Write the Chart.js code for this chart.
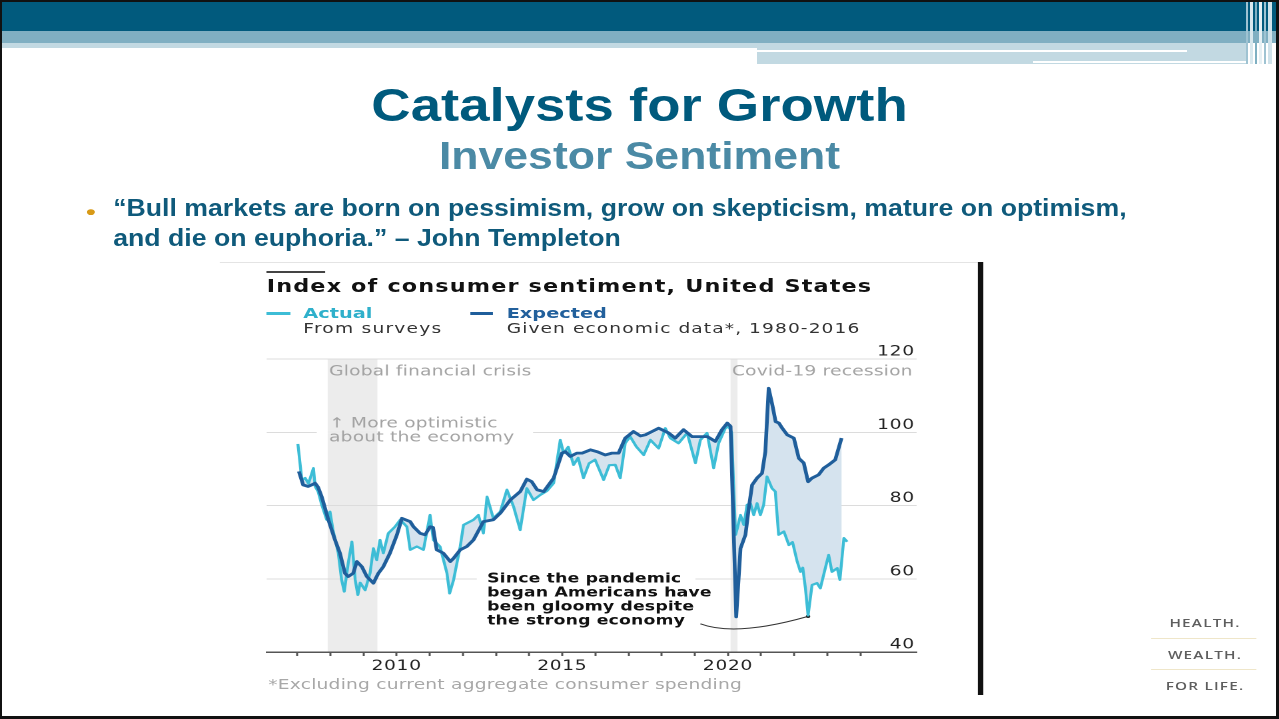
<!DOCTYPE html>
<html>
<head>
<meta charset="utf-8">
<script src="https://cdn.jsdelivr.net/npm/chart.js@4.4.1/dist/chart.umd.min.js"></script>
<style>
html, body { margin: 0; padding: 0; background: #fff; }
#slide { position: relative; width: 1279px; height: 719px; overflow: hidden; background: #fff; }
#frame { position: absolute; left: 0; top: 0; width: 1279px; height: 719px; box-sizing: border-box;
  border: 2px solid #111; border-right-width: 3px; border-bottom-width: 3px; z-index: 10; }
.bar { position: absolute; }
/* the slide was a 4:3 deck stretched to 16:9, so lay it out at 960 wide and stretch */
#stage { position: absolute; left: 0; top: 0; width: 960px; height: 719px;
  transform-origin: 0 0; transform: scaleX(1.33229); }
.t { position: absolute; white-space: nowrap; line-height: 1; }
.arial { font-family: "Liberation Sans", Arial, sans-serif; font-weight: bold; }
.dv { font-family: "DejaVu Sans", sans-serif; }
.narrowC { transform-origin: 480px 0; }
.narrowL { transform-origin: 0 0; }
#chartCanvas { position: absolute; left: 165px; top: 340px; width: 540px; height: 360px; }
</style>
</head>
<body>
<div id="slide">
  <!-- header bars -->
  <div class="bar" style="left:0;top:0;width:1279px;height:31px;background:#015a7d"></div>
  <div class="bar" style="left:0;top:31px;width:1279px;height:12px;background:#80afc2"></div>
  <div class="bar" style="left:0;top:43px;width:757px;height:5px;background:#c2d9e2"></div>
  <div class="bar" style="left:757px;top:43px;width:490px;height:21px;background:#c2d9e2"></div>
  <div class="bar" style="left:757px;top:50px;width:430px;height:2px;background:#fff"></div>
  <div class="bar" style="left:1033px;top:61px;width:222px;height:2px;background:#fff"></div>
  <div class="bar" style="left:1246px;top:0;width:2px;height:64px;background:#9fc3d2"></div>
  <div class="bar" style="left:1250px;top:0;width:3px;height:64px;background:#d8e8ee"></div>
  <div class="bar" style="left:1255px;top:0;width:2px;height:64px;background:#7fb0c2"></div>
  <div class="bar" style="left:1259px;top:0;width:3px;height:64px;background:#e6f0f4"></div>
  <div class="bar" style="left:1264px;top:0;width:2px;height:64px;background:#9fc3d2"></div>
  <div class="bar" style="left:1268px;top:0;width:4px;height:64px;background:#cfe2ea"></div>

  <div id="stage">
    <div class="t arial narrowC" style="left:0;width:960px;text-align:center;top:81.6px;font-size:46px;color:#005a7d;transform:scaleX(0.89)">Catalysts for Growth</div>
    <div class="t arial narrowC" style="left:0;width:960px;text-align:center;top:136.5px;font-size:38px;color:#4b8aa5;transform:scaleX(0.88)">Investor Sentiment</div>

    <div class="t arial" style="left:64.5px;top:201px;font-size:21px;color:#d89a17">•</div>
    <div class="t arial narrowL" style="left:84.8px;top:193.3px;font-size:23px;line-height:30px;color:#0f5a7b;transform:scaleX(0.87)">“Bull markets are born on pessimism, grow on skepticism, mature on optimism,<br>and die on euphoria.” – John Templeton</div>

    <!-- embedded chart picture -->
    <div class="bar" style="left:165px;top:262px;width:569px;height:1px;background:#e4e4e4"></div>
    <div class="bar" style="left:734px;top:262px;width:3.5px;height:433px;background:#111"></div>
    <div class="bar" style="left:200.2px;top:271px;width:44px;height:1.5px;background:#444"></div>
    <div class="t dv" style="left:200.2px;top:278.1px;font-size:16.8px;font-weight:bold;letter-spacing:0.85px;color:#111">Index of consumer sentiment, United States</div>

    <div class="bar" style="left:200.2px;top:312px;width:17.5px;height:2.6px;background:#3dbdd6"></div>
    <div class="t dv" style="left:227.7px;top:306.3px;font-size:14.5px;font-weight:bold;color:#2fb0cb">Actual</div>
    <div class="t dv" style="left:227.7px;top:321.3px;font-size:14px;letter-spacing:0.9px;color:#333">From surveys</div>
    <div class="bar" style="left:352.8px;top:312px;width:17.5px;height:2.6px;background:#1f5e9b"></div>
    <div class="t dv" style="left:380.3px;top:306.3px;font-size:14.5px;font-weight:bold;color:#22609c">Expected</div>
    <div class="t dv" style="left:380.3px;top:321.3px;font-size:14px;letter-spacing:0.8px;color:#333">Given economic data*, 1980-2016</div>

    <canvas id="chartCanvas" width="540" height="360"></canvas>

    <div class="t dv" style="left:201.4px;top:676.6px;font-size:14px;letter-spacing:0.15px;color:#a8a8a8">*Excluding current aggregate consumer spending</div>

    <!-- logo -->
    <div class="t" style="left:854.5px;width:100px;text-align:center;top:617.4px;font-family:'Open Sans',sans-serif;font-weight:600;font-size:11.5px;letter-spacing:0.9px;color:#5e5e5e">HEALTH.</div>
    <div class="bar" style="left:864px;top:637.5px;width:79px;height:1.5px;background:#efe6c9"></div>
    <div class="t" style="left:854.5px;width:100px;text-align:center;top:648.6px;font-family:'Open Sans',sans-serif;font-weight:600;font-size:11.5px;letter-spacing:0.9px;color:#5e5e5e">WEALTH.</div>
    <div class="bar" style="left:864px;top:668.5px;width:79px;height:1.5px;background:#efe6c9"></div>
    <div class="t" style="left:854.5px;width:100px;text-align:center;top:679.7px;font-family:'Open Sans',sans-serif;font-weight:600;font-size:11.5px;letter-spacing:0.9px;color:#5e5e5e">FOR LIFE.</div>
  </div>
  <div id="frame"></div>
</div>

<script>
// Index of consumer sentiment, United States
var actualYears = [
  2007.02, 2007.14, 2007.24, 2007.34, 2007.49, 2007.54, 2007.63, 2007.74, 2007.89, 2007.99,
  2008.08, 2008.24, 2008.34, 2008.42, 2008.54, 2008.65, 2008.75, 2008.83, 2008.90, 2009.05,
  2009.20, 2009.30, 2009.40, 2009.50, 2009.60, 2009.75, 2009.95, 2010.11, 2010.31, 2010.41,
  2010.61, 2010.81, 2011.01, 2011.11, 2011.31, 2011.52, 2011.60, 2011.72, 2011.92, 2012.02,
  2012.32, 2012.47, 2012.62, 2012.73, 2012.92, 2013.13, 2013.33, 2013.53, 2013.73, 2013.93,
  2014.13, 2014.34, 2014.54, 2014.74, 2014.94, 2015.04, 2015.18, 2015.34, 2015.48, 2015.64,
  2015.81, 2015.99, 2016.25, 2016.42, 2016.60, 2016.75, 2016.90, 2017.05, 2017.24, 2017.46,
  2017.66, 2017.91, 2018.11, 2018.26, 2018.51, 2018.77, 2019.02, 2019.17, 2019.37, 2019.57,
  2019.72, 2019.92, 2020.02, 2020.11, 2020.23, 2020.29, 2020.38, 2020.48, 2020.58, 2020.68,
  2020.78, 2020.88, 2020.98, 2021.08, 2021.18, 2021.33, 2021.43, 2021.53, 2021.69, 2021.84,
  2021.95, 2022.09, 2022.19, 2022.26, 2022.34, 2022.42, 2022.54, 2022.69, 2022.79, 2022.94,
  2023.04, 2023.14, 2023.30, 2023.38, 2023.50, 2023.60
];
var actualValues = [
  96.8, 87.0, 87.5, 86.0, 90.2, 85.2, 83.8, 80.2, 76.1, 78.3,
  73.3, 67.0, 59.7, 56.5, 64.3, 70.1, 59.7, 55.6, 58.9, 56.9,
  61.6, 68.3, 65.1, 70.6, 67.0, 72.4, 74.2, 76.1, 74.2, 67.9,
  68.8, 67.9, 77.4, 70.6, 68.8, 61.5, 56.0, 59.7, 68.8, 74.7,
  76.1, 77.4, 72.4, 82.4, 76.5, 78.3, 84.3, 79.7, 73.3, 84.7,
  81.5, 82.9, 84.0, 86.1, 97.9, 94.3, 96.0, 91.1, 93.0, 87.5,
  91.5, 92.5, 87.0, 91.0, 91.1, 87.5, 97.0, 98.8, 96.0, 93.8,
  97.9, 95.6, 101.1, 98.4, 97.0, 99.8, 91.6, 97.9, 99.8, 90.2,
  97.0, 101.1, 101.6, 100.0, 72.0, 74.0, 77.4, 74.7, 80.2, 80.6,
  77.4, 80.6, 77.4, 80.2, 87.9, 84.7, 83.8, 72.0, 72.9, 69.2,
  70.0, 64.7, 61.9, 63.0, 57.4, 50.0, 58.3, 58.8, 57.4, 62.9,
  66.5, 61.9, 62.9, 59.7, 71.1, 70.1
];
var expectedYears = [
  2007.05, 2007.18, 2007.33, 2007.48, 2007.54, 2007.63, 2007.74, 2007.94, 2008.14, 2008.29,
  2008.44, 2008.54, 2008.69, 2008.80, 2008.95, 2009.10, 2009.30, 2009.45, 2009.60, 2009.80,
  2010.01, 2010.16, 2010.41, 2010.51, 2010.71, 2010.86, 2011.01, 2011.10, 2011.21, 2011.41,
  2011.62, 2011.72, 2011.92, 2012.12, 2012.32, 2012.62, 2012.92, 2013.13, 2013.43, 2013.73,
  2013.93, 2014.08, 2014.24, 2014.44, 2014.74, 2014.99, 2015.09, 2015.24, 2015.44, 2015.60,
  2015.85, 2016.05, 2016.30, 2016.50, 2016.70, 2016.90, 2017.15, 2017.36, 2017.51, 2017.71,
  2017.91, 2018.21, 2018.41, 2018.66, 2018.92, 2019.17, 2019.38, 2019.62, 2019.82, 2019.98,
  2020.08, 2020.25, 2020.38, 2020.53, 2020.63, 2020.73, 2020.88, 2021.03, 2021.13, 2021.23,
  2021.34, 2021.44, 2021.54, 2021.64, 2021.79, 2021.99, 2022.14, 2022.29, 2022.42, 2022.54,
  2022.74, 2022.89, 2023.04, 2023.24, 2023.43
];
var expectedValues = [
  89.3, 85.6, 85.2, 85.8, 86.1, 85.0, 82.4, 76.1, 70.6, 67.0,
  61.5, 60.6, 61.5, 64.7, 63.3, 60.6, 58.8, 61.5, 63.3, 67.0,
  72.0, 76.5, 75.6, 74.2, 72.4, 72.0, 74.2, 74.0, 67.9, 67.0,
  64.7, 65.6, 67.9, 68.8, 70.6, 75.6, 76.1, 77.9, 81.5, 83.8,
  87.2, 86.5, 84.3, 83.8, 87.5, 94.3, 94.7, 93.4, 94.3, 94.3,
  95.2, 94.7, 93.8, 94.3, 94.3, 98.4, 100.2, 99.0, 99.3, 100.2,
  101.1, 99.8, 98.4, 100.7, 98.8, 98.8, 98.8, 97.5, 100.7, 102.5,
  101.6, 49.6, 68.3, 72.0, 79.3, 85.6, 87.5, 88.8, 94.7, 112.0,
  107.5, 102.9, 102.5, 101.1, 99.3, 98.4, 92.9, 91.6, 86.5, 87.5,
  88.4, 90.2, 91.1, 92.5, 98.4
];
var yTickValues = [40, 60, 80, 100, 120];
var labelledYears = [2010, 2015, 2020];
var recessionNames = ['Global financial crisis', 'Covid-19 recession'];
var recessionStart = [2007.92, 2020.08];
var recessionEnd = [2009.42, 2020.29];

var fontFamily = "'DejaVu Sans', sans-serif";
var actualColor = '#3dbdd6';
var expectedColor = '#1f5e9b';
var gapColor = '#d5e3ee';
var bandColor = '#ececec';

function toPoints(xs, ys) {
  var pts = [];
  for (var i = 0; i < xs.length; i++) pts.push({ x: xs[i], y: ys[i] });
  return pts;
}

// grey recession bands under the grid, notes above the grid
var notesPlugin = {
  id: 'notes',
  beforeDraw: function (chart) {
    var ctx = chart.ctx, xs = chart.scales.x, ys = chart.scales.y, area = chart.chartArea;
    ctx.letterSpacing = '0.5px';
    var top = ys.getPixelForValue(yTickValues[yTickValues.length - 1]);
    ctx.save();
    ctx.fillStyle = bandColor;
    for (var i = 0; i < recessionStart.length; i++) {
      var x0 = xs.getPixelForValue(recessionStart[i]);
      var x1 = xs.getPixelForValue(recessionEnd[i]);
      ctx.fillRect(x0, top, x1 - x0, area.bottom - top);
    }
    ctx.restore();
  },
  beforeDatasetsDraw: function (chart) {
    var ctx = chart.ctx, xs = chart.scales.x, ys = chart.scales.y;
    ctx.save();
    // gaps in the grid lines behind the two text notes
    var gaps = [[2007.59, 2014.12, 100], [2012.42, 2019.02, 60]];
    gaps.forEach(function (g) {
      var gx0 = xs.getPixelForValue(g[0]), gx1 = xs.getPixelForValue(g[1]);
      var gy = ys.getPixelForValue(g[2]);
      ctx.fillStyle = '#fff';
      ctx.fillRect(gx0, gy - 1.5, gx1 - gx0, 3);
      for (var i = 0; i < recessionStart.length; i++) {
        var b0 = Math.max(gx0, xs.getPixelForValue(recessionStart[i]));
        var b1 = Math.min(gx1, xs.getPixelForValue(recessionEnd[i]));
        if (b1 > b0) { ctx.fillStyle = bandColor; ctx.fillRect(b0, gy - 1.5, b1 - b0, 3); }
      }
    });

    ctx.letterSpacing = '0.15px';
    ctx.textBaseline = 'middle';
    ctx.textAlign = 'left';
    ctx.fillStyle = '#a3a3a3';
    ctx.font = '14px ' + fontFamily;
    for (var i = 0; i < recessionNames.length; i++) {
      ctx.fillText(recessionNames[i], xs.getPixelForValue(recessionStart[i]) + 1, ys.getPixelForValue(116.5));
    }
    var gx = xs.getPixelForValue(recessionStart[0]) + 1;
    ctx.fillText('↑ More optimistic', gx, ys.getPixelForValue(102.3));
    ctx.fillText('about the economy', gx, ys.getPixelForValue(98.5));

    ctx.letterSpacing = '0.1px';
    ctx.fillStyle = '#111';
    ctx.font = 'bold 13px ' + fontFamily;
    var noteLines = ['Since the pandemic', 'began Americans have', 'been gloomy despite', 'the strong economy'];
    var nx = xs.getPixelForValue(2012.73);
    var ny = ys.getPixelForValue(59.9);
    noteLines.forEach(function (s, k) { ctx.fillText(s, nx, ny + k * 14); });

    // connector to the post-pandemic low of the survey
    var lowIdx = 0;
    for (var j = 0; j < actualYears.length; j++) {
      if (actualYears[j] > 2021 && (lowIdx === 0 || actualValues[j] < actualValues[lowIdx])) lowIdx = j;
    }
    var ex = xs.getPixelForValue(actualYears[lowIdx]);
    var ey = ys.getPixelForValue(actualValues[lowIdx]) + 1;
    ctx.strokeStyle = '#333';
    ctx.lineWidth = 1;
    ctx.beginPath();
    ctx.moveTo(xs.getPixelForValue(2019.17), ys.getPixelForValue(47.7));
    ctx.quadraticCurveTo(xs.getPixelForValue(2020.23), ys.getPixelForValue(44.1), ex, ey);
    ctx.stroke();
    ctx.fillStyle = '#222';
    ctx.beginPath();
    ctx.arc(ex, ey, 1.6, 0, Math.PI * 2);
    ctx.fill();
    ctx.restore();
  }
};

new Chart(document.getElementById('chartCanvas'), {
  type: 'line',
  data: {
    datasets: [{
      label: 'Expected',
      data: toPoints(expectedYears, expectedValues),
      borderColor: expectedColor,
      borderWidth: 2.8,
      pointRadius: 0,
      tension: 0,
      borderJoinStyle: 'round',
      fill: false
    }, {
      label: 'Actual',
      data: toPoints(actualYears, actualValues),
      borderColor: actualColor,
      borderWidth: 2.2,
      pointRadius: 0,
      tension: 0,
      borderJoinStyle: 'round',
      fill: { target: 0, above: gapColor, below: gapColor }
    }]
  },
  options: {
    responsive: false,
    maintainAspectRatio: false,
    devicePixelRatio: 2,
    animation: false,
    layout: { padding: { left: 35.2, top: 19, right: 0, bottom: 0 } },
    plugins: {
      legend: { display: false },
      tooltip: { enabled: false }
    },
    scales: {
      x: {
        type: 'linear',
        min: 2006.08,
        max: 2025.7,
        afterFit: function (scale) { scale.height = 48; },
        border: { display: true, color: '#555', width: 1.5 },
        grid: { drawOnChartArea: false, drawTicks: true, tickLength: 4, tickColor: '#555', tickWidth: 1.5 },
        ticks: {
          stepSize: 1,
          includeBounds: false,
          autoSkip: false,
          maxRotation: 0,
          padding: 2,
          color: '#222',
          font: { family: fontFamily, size: 14 },
          callback: function (v) {
            if (v > 2024) return null;
            return labelledYears.indexOf(v) >= 0 ? String(v) : '';
          }
        }
      },
      y: {
        position: 'right',
        min: yTickValues[0],
        max: yTickValues[yTickValues.length - 1],
        afterFit: function (scale) { scale.width = 16.9; },
        border: { display: false },
        grid: {
          drawTicks: false,
          lineWidth: 1,
          color: function (c) { return c.tick && c.tick.value === yTickValues[0] ? 'rgba(0,0,0,0)' : '#dcdcdc'; }
        },
        ticks: {
          stepSize: 20,
          mirror: true,
          padding: -1.5,
          labelOffset: -7,
          color: '#222',
          font: { family: fontFamily, size: 14 }
        }
      }
    }
  },
  plugins: [notesPlugin]
});
</script>
</body>
</html>
